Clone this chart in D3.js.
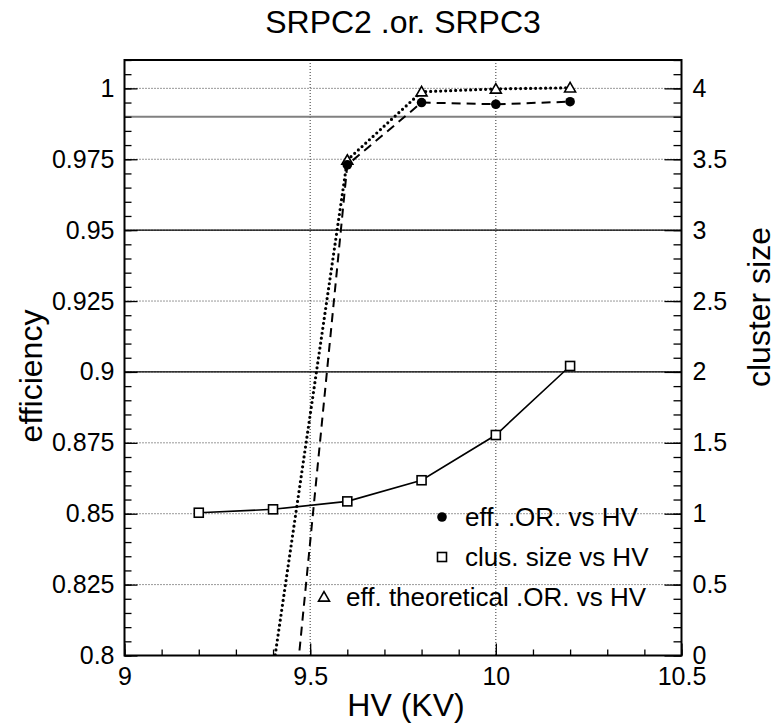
<!DOCTYPE html>
<html>
<head>
<meta charset="utf-8">
<script src="https://cdn.jsdelivr.net/npm/d3@7"></script>
<style>
  body { margin: 0; background: #fff; }
  svg, svg text { font-family: "Liberation Sans", Arial, Helvetica, sans-serif; }
</style>
</head>
<body>
<div id="container"></div>
<script>
// values
var hvEff = [9.4, 9.6, 9.8, 10.0, 10.2];
var effOR = [0.707, 0.973, 0.995, 0.9944, 0.9953];
var effTheo = [0.795, 0.9747, 0.9988, 0.9998, 1.0002];
var hvClus = [9.2, 9.4, 9.6, 9.8, 10.0, 10.2];
var clusSize = [1.007, 1.031, 1.087, 1.236, 1.555, 2.042];

var xTicks = [9, 9.5, 10, 10.5];
var xTickLabels = ["9", "9.5", "10", "10.5"];
var yTicks = [0.8, 0.825, 0.85, 0.875, 0.9, 0.925, 0.95, 0.975, 1];
var yTickLabels = ["0.8", "0.825", "0.85", "0.875", "0.9", "0.925", "0.95", "0.975", "1"];
var y2Ticks = [0, 0.5, 1, 1.5, 2, 2.5, 3, 3.5, 4];
var y2TickLabels = ["0", "0.5", "1", "1.5", "2", "2.5", "3", "3.5", "4"];
var blackLevels = [0.95, 0.9];
var grayLevels = [0.99];
var legendLabels = ["eff. .OR. vs HV", "clus. size vs HV", "eff. theoretical .OR. vs HV"];

var width = 775, height = 723;
var pLeft = 124.5, pRight = 681.5, pTop = 60, pBottom = 655.5;

var x = d3.scaleLinear().domain([9, 10.5]).range([pLeft, pRight]);
var y = d3.scaleLinear().domain([0.8, 1.01]).range([pBottom, pTop]);
var y2 = d3.scaleLinear().domain([0, 4.2]).range([pBottom, pTop]);

var svg = d3.select("#container").append("svg")
    .attr("width", width)
    .attr("height", height);

svg.append("defs").append("clipPath").attr("id", "plotclip")
  .append("rect")
    .attr("x", pLeft).attr("y", pTop)
    .attr("width", pRight - pLeft).attr("height", pBottom - pTop);

// grid
var grid = svg.append("g").attr("stroke", "#333").attr("stroke-width", 1).attr("stroke-dasharray", "1,2");
grid.selectAll(".hg").data(yTicks.slice(1)).enter().append("line")
    .attr("x1", pLeft).attr("x2", pRight)
    .attr("y1", function(d) { return y(d); }).attr("y2", function(d) { return y(d); });
grid.selectAll(".vg").data([9.5, 10]).enter().append("line")
    .attr("y1", pTop).attr("y2", pBottom)
    .attr("x1", function(d) { return x(d); }).attr("x2", function(d) { return x(d); });

// reference lines
svg.selectAll(".bl").data(blackLevels).enter().append("line")
    .attr("x1", pLeft).attr("x2", pRight)
    .attr("y1", function(d) { return y(d); }).attr("y2", function(d) { return y(d); })
    .attr("stroke", "#000").attr("stroke-width", 1.3);
svg.selectAll(".gl").data(grayLevels).enter().append("line")
    .attr("x1", pLeft).attr("x2", pRight)
    .attr("y1", function(d) { return y(d); }).attr("y2", function(d) { return y(d); })
    .attr("stroke", "#808080").attr("stroke-width", 2);

var plot = svg.append("g").attr("clip-path", "url(#plotclip)");

var effLine = d3.line().x(function(d, i) { return x(hvEff[i]); }).y(function(d) { return y(d); });
var clusLine = d3.line().x(function(d, i) { return x(hvClus[i]); }).y(function(d) { return y2(d); });

plot.append("path").datum(effOR).attr("d", effLine)
    .attr("fill", "none").attr("stroke", "#000").attr("stroke-width", 2)
    .attr("stroke-dasharray", "9,6");
plot.append("path").datum(effTheo).attr("d", effLine)
    .attr("fill", "none").attr("stroke", "#000").attr("stroke-width", 3.2)
    .attr("stroke-linecap", "round").attr("stroke-dasharray", "0,5");
plot.append("path").datum(clusSize).attr("d", clusLine)
    .attr("fill", "none").attr("stroke", "#000").attr("stroke-width", 1.6);

var tri = d3.symbol().type(d3.symbolTriangle).size(52);

plot.selectAll(".sq").data(clusSize).enter().append("rect")
    .attr("x", function(d, i) { return x(hvClus[i]) - 4.5; })
    .attr("y", function(d) { return y2(d) - 4.5; })
    .attr("width", 9).attr("height", 9)
    .attr("fill", "#fff").attr("stroke", "#000").attr("stroke-width", 1.6);
plot.selectAll(".tri").data(effTheo).enter().append("path")
    .attr("d", tri)
    .attr("transform", function(d, i) { return "translate(" + x(hvEff[i]) + "," + (y(d) + 1) + ")"; })
    .attr("fill", "#fff").attr("stroke", "#000").attr("stroke-width", 1.6);
plot.selectAll(".dot").data(effOR).enter().append("circle")
    .attr("cx", function(d, i) { return x(hvEff[i]); })
    .attr("cy", function(d) { return y(d); })
    .attr("r", 4.8).attr("fill", "#000");

// axes
function minor(a, b, step) {
  var out = [];
  for (var v = a; v <= b + 1e-9; v += step) out.push(+v.toFixed(4));
  return out;
}

function styleAxis(g, size) {
  g.attr("font-family", null).attr("font-size", size);
  g.select(".domain").remove();
  g.selectAll("line").attr("stroke", "#000").attr("stroke-width", 1.3);
  g.selectAll("text").attr("fill", "#000");
}

svg.append("g").attr("transform", "translate(" + pLeft + ",0)")
    .call(d3.axisLeft(y).tickValues(minor(0.8, 1.01, 0.005)).tickSize(-7).tickFormat(""))
    .call(function(g) { styleAxis(g, 0); });
svg.append("g").attr("transform", "translate(" + pLeft + ",0)")
    .call(d3.axisLeft(y).tickValues(yTicks).tickSize(-13).tickPadding(10)
      .tickFormat(function(d, i) { return yTickLabels[i]; }))
    .call(function(g) { styleAxis(g, 25); });

svg.append("g").attr("transform", "translate(" + pRight + ",0)")
    .call(d3.axisRight(y2).tickValues(minor(0, 4.2, 0.1)).tickSize(-8).tickFormat(""))
    .call(function(g) { styleAxis(g, 0); });
svg.append("g").attr("transform", "translate(" + pRight + ",0)")
    .call(d3.axisRight(y2).tickValues(y2Ticks).tickSize(-17).tickPadding(11)
      .tickFormat(function(d, i) { return y2TickLabels[i]; }))
    .call(function(g) { styleAxis(g, 25); });

svg.append("g").attr("transform", "translate(0," + pBottom + ")")
    .call(d3.axisBottom(x).tickValues(minor(9, 10.5, 0.1)).tickSize(-6).tickFormat(""))
    .call(function(g) { styleAxis(g, 0); });
svg.append("g").attr("transform", "translate(0," + pBottom + ")")
    .call(d3.axisBottom(x).tickValues(xTicks).tickSize(-12).tickPadding(12)
      .tickFormat(function(d, i) { return xTickLabels[i]; }))
    .call(function(g) { styleAxis(g, 25); });

// frame
svg.append("rect")
    .attr("x", pLeft).attr("y", pTop)
    .attr("width", pRight - pLeft).attr("height", pBottom - pTop)
    .attr("fill", "none").attr("stroke", "#000").attr("stroke-width", 2);

// titles
svg.append("text").attr("x", 403).attr("y", 33)
    .attr("text-anchor", "middle").attr("font-size", 32)
    .text("SRPC2 .or. SRPC3");
svg.append("text").attr("x", 406).attr("y", 716)
    .attr("text-anchor", "middle").attr("font-size", 32)
    .text("HV (KV)");
svg.append("text")
    .attr("transform", "translate(42,376) rotate(-90)")
    .attr("text-anchor", "middle").attr("font-size", 32)
    .text("efficiency");
svg.append("text")
    .attr("transform", "translate(770,307) rotate(-90)")
    .attr("text-anchor", "middle").attr("font-size", 32)
    .text("cluster size");

// legend
var leg = svg.append("g");
var legRows = [
  {mx: 442, tx: 465, cy: 517},
  {mx: 442, tx: 465, cy: 557},
  {mx: 324, tx: 346, cy: 597}
];
leg.append("circle").attr("cx", legRows[0].mx).attr("cy", legRows[0].cy).attr("r", 4.8).attr("fill", "#000");
leg.append("rect").attr("x", legRows[1].mx - 4.5).attr("y", legRows[1].cy - 4.5)
    .attr("width", 9).attr("height", 9)
    .attr("fill", "#fff").attr("stroke", "#000").attr("stroke-width", 1.6);
leg.append("path").attr("d", tri)
    .attr("transform", "translate(" + legRows[2].mx + "," + (legRows[2].cy + 1) + ")")
    .attr("fill", "#fff").attr("stroke", "#000").attr("stroke-width", 1.6);
leg.selectAll("text").data(legendLabels).enter().append("text")
    .attr("x", function(d, i) { return legRows[i].tx; })
    .attr("y", function(d, i) { return legRows[i].cy; })
    .attr("dy", "0.35em")
    .attr("font-size", 26)
    .text(function(d) { return d; });
</script>
</body>
</html>
